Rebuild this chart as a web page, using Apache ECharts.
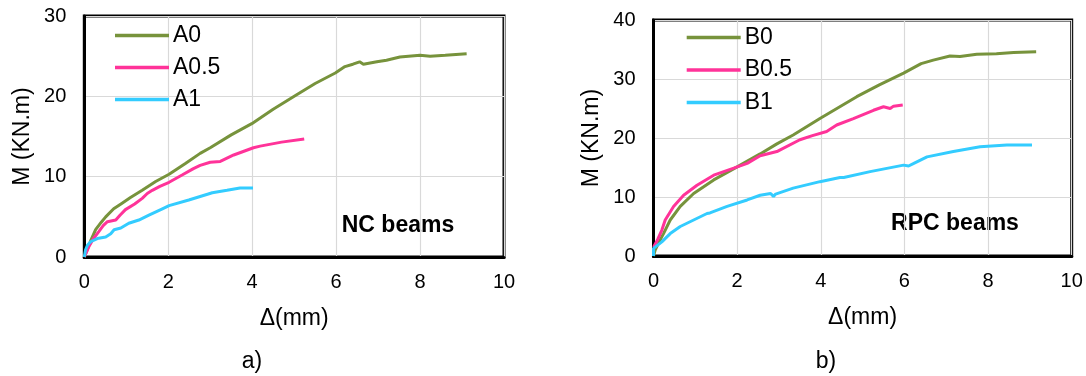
<!DOCTYPE html>
<html>
<head>
<meta charset="utf-8">
<script src="https://cdn.jsdelivr.net/npm/echarts/dist/echarts.min.js"></script>
<style>
  html, body { margin: 0; padding: 0; background: #fff; }
  #chart { width: 1086px; height: 376px; }
</style>
</head>
<body>
<div id="chart"></div>
<script>
// Moment (kN.m) versus deflection (mm) for the beam series
const xTicks = { min: 0, max: 10, interval: 2 };
const yTicksNC = { min: 0, max: 30, interval: 10 };
const yTicksRPC = { min: 0, max: 40, interval: 10 };

// NC beams: [deflection, moment]
const a0 = [[0,0],[0.07,0.9],[0.15,2.0],[0.27,3.4],[0.4,4.3],[0.51,5.0],[0.7,6.0],[0.9,6.7],[1.1,7.4],[1.38,8.3],[1.7,9.4],[2.02,10.3],[2.4,11.6],[2.76,12.9],[3.0,13.6],[3.5,15.2],[3.99,16.6],[4.5,18.4],[5.06,20.2],[5.5,21.6],[5.98,22.9],[6.21,23.7],[6.4,24.0],[6.56,24.3],[6.65,24.0],[6.97,24.3],[7.2,24.5],[7.52,24.9],[8.0,25.1],[8.24,25.0],[8.6,25.1],[9.11,25.3]];
const a05 = [[0,0],[0.11,1.3],[0.22,2.3],[0.35,3.2],[0.45,3.9],[0.55,4.4],[0.75,4.6],[0.85,5.2],[0.98,5.9],[1.2,6.6],[1.38,7.3],[1.5,7.9],[1.62,8.3],[1.8,8.8],[2.02,9.3],[2.33,10.2],[2.6,11.0],[2.76,11.4],[3.0,11.8],[3.24,11.9],[3.56,12.7],[4.03,13.6],[4.19,13.8],[4.7,14.3],[5.24,14.7]];
const a1 = [[0,0],[0.03,0.9],[0.08,1.5],[0.15,1.9],[0.31,2.3],[0.51,2.5],[0.63,2.9],[0.71,3.4],[0.87,3.6],[1.06,4.2],[1.3,4.6],[1.54,5.2],[1.86,6.0],[2.02,6.4],[2.49,7.1],[3.05,8.0],[3.4,8.3],[3.71,8.6],[4.02,8.6]];

// RPC beams: [deflection, moment]
const b0 = [[0,0],[0.04,1.0],[0.12,2.2],[0.24,3.8],[0.4,6.1],[0.64,8.4],[0.96,10.6],[1.44,12.9],[2.0,15.1],[2.55,17.3],[2.95,19.0],[3.34,20.5],[3.98,23.3],[4.86,27.0],[5.4,29.0],[5.98,31.0],[6.4,32.6],[6.69,33.2],[7.09,33.9],[7.33,33.8],[7.73,34.2],[8.2,34.3],[8.61,34.5],[9.15,34.6]];
const b05 = [[0,1.5],[0.1,2.8],[0.2,4.4],[0.28,6.1],[0.48,8.4],[0.72,10.3],[1.04,12.0],[1.44,13.7],[1.92,14.9],[2.24,15.7],[2.55,17.0],[2.95,17.7],[3.03,18.0],[3.5,19.7],[3.8,20.4],[4.14,21.1],[4.38,22.2],[4.78,23.3],[5.26,24.7],[5.5,25.3],[5.66,25.0],[5.74,25.4],[5.96,25.6]];
const b1 = [[0,0],[0.0,1.3],[0.2,2.4],[0.4,3.8],[0.64,5.0],[0.96,6.1],[1.28,7.2],[1.3,7.0],[1.35,7.3],[1.76,8.4],[2.24,9.5],[2.55,10.3],[2.8,10.6],[2.87,10.1],[2.92,10.5],[3.34,11.5],[3.98,12.6],[4.46,13.3],[4.5,13.0],[4.55,13.3],[5.18,14.3],[5.98,15.4],[6.1,15.25],[6.2,15.6],[6.54,16.8],[7.17,17.7],[7.81,18.5],[8.45,18.8],[9.05,18.8]];

const seriesNames = ['A0', 'A0.5', 'A1', 'B0', 'B0.5', 'B1'];
const colors = ['#77933C', '#FF3399', '#33CCFF'];

const FONT = '"Liberation Sans", Arial, sans-serif';
const gridLine = { lineStyle: { color: '#D9D9D9', width: 1.2 } };

function xAxis(gridIndex) {
  return {
    type: 'value', gridIndex, min: xTicks.min, max: xTicks.max, interval: xTicks.interval,
    axisLine: { show: true, onZero: false, lineStyle: { color: '#000', width: 3 } },
    axisTick: { show: false },
    axisLabel: { color: '#000', fontSize: 20, fontFamily: FONT, margin: 15 },
    splitLine: gridLine,
    name: 'Δ(mm)', nameLocation: 'middle', nameGap: 50,
    nameTextStyle: { color: '#000', fontSize: 23, fontFamily: FONT }
  };
}
function yAxis(gridIndex, t) {
  return {
    type: 'value', gridIndex, min: t.min, max: t.max, interval: t.interval,
    axisLine: { show: true, lineStyle: { color: '#000', width: 3 } },
    axisTick: { show: false },
    axisLabel: { color: '#000', fontSize: 20, fontFamily: FONT, margin: 18 },
    splitLine: gridLine,
    name: 'M (KN.m)', nameLocation: 'middle', nameGap: 50, nameRotate: 90,
    nameTextStyle: { color: '#000', fontSize: 23, fontFamily: FONT }
  };
}
function line(name, data, idx, color) {
  return {
    type: 'line', name, data, xAxisIndex: idx, yAxisIndex: idx,
    symbol: 'none', smooth: false, color,
    lineStyle: { color, width: 3 }, z: 3
  };
}
function legend(names, left, top, gap) {
  return {
    data: names.map(n => ({ name: n, icon: 'rect' })),
    orient: 'vertical', left, top, itemGap: gap, padding: 0,
    itemWidth: 54, itemHeight: 3.5,
    textStyle: { color: '#000', fontSize: 23, fontFamily: FONT, padding: [0, 0, 0, -1] }
  };
}
function label(text, x, y, bold) {
  return {
    type: 'text', x, y,
    style: {
      text, fill: '#000', align: 'center', verticalAlign: 'middle',
      font: (bold ? 'bold ' : '') + '23px ' + FONT
    }
  };
}

const chart = echarts.init(document.getElementById('chart'), null, { renderer: 'canvas' });
chart.setOption({
  animation: false,
  backgroundColor: '#fff',
  grid: [
    { left: 84.3, right: 582, top: 16, bottom: 119, show: true, borderColor: '#000', borderWidth: 3 },
    { left: 653.5, right: 14.3, top: 20, bottom: 120, show: true, borderColor: '#000', borderWidth: 3 }
  ],
  xAxis: [xAxis(0), xAxis(1)],
  yAxis: [yAxis(0, yTicksNC), yAxis(1, yTicksRPC)],
  legend: [
    legend(seriesNames.slice(0, 3), 115, 24, 9),
    legend(seriesNames.slice(3), 686.7, 26, 9.5)
  ],
  series: [
    line(seriesNames[0], a0, 0, colors[0]),
    line(seriesNames[1], a05, 0, colors[1]),
    line(seriesNames[2], a1, 0, colors[2]),
    line(seriesNames[3], b0, 1, colors[0]),
    line(seriesNames[4], b05, 1, colors[1]),
    line(seriesNames[5], b1, 1, colors[2])
  ],
  graphic: [
    label('NC beams', 398, 226, true),
    label('RPC beams', 955, 224, true),
    label('a)', 252, 362, false),
    label('b)', 826, 362, false)
  ]
});
</script>
</body>
</html>
